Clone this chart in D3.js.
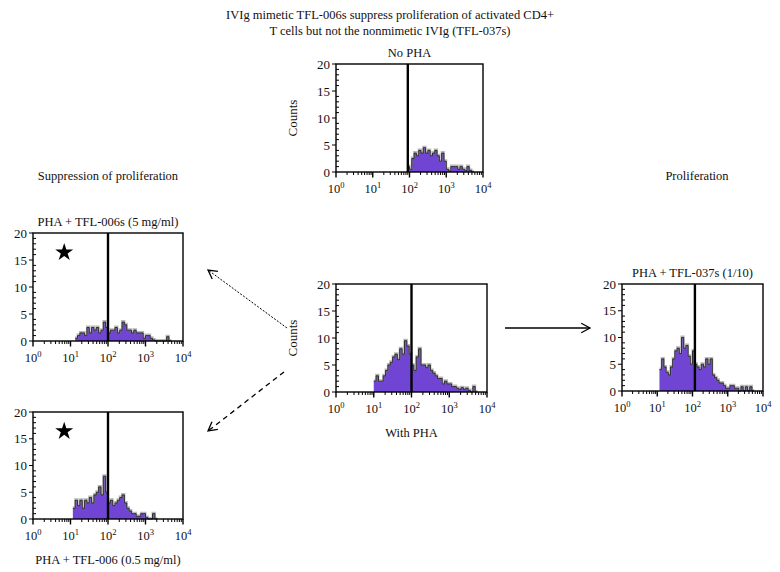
<!DOCTYPE html>
<html><head><meta charset="utf-8">
<script src="https://cdn.jsdelivr.net/npm/d3@7"></script>
<style>body{margin:0;background:#fff}svg{display:block}text{font-family:"Liberation Serif","DejaVu Serif",serif;fill:#111}</style>
</head><body><svg id="c" width="780" height="572"></svg>
<script>
// ---- data (bins of 1/16 decade; start = log10 of first bin edge) ----
const binWidth = 1/16;
const xTickExps = [0, 1, 2, 3, 4];
const yTicks = [0, 5, 10, 15, 20];

const noPhaStart = 1.9375;
const noPhaCounts = [1,0.5,2.5,3.5,3,4,3.5,4.5,3.5,4,3,3.5,4,3,2,3.5,2,0.5,0.2,1,1,1,0.5,1,0.5,0.3,1,0.3,0];
const noPhaGate = 90;

const withPhaStart = 1.0;
const withPhaCounts = [2,3,2,2,3,4,5,5.5,6.5,7,6,8,7,9.5,8.5,7,5,4,6.5,8,5,5,4.5,5,4,3.5,3,2.5,2.5,1.5,2,1.5,1.5,1,1,0.7,0.5,0.8,0.5,0.7,0.3,0,1,0];
const withPhaGate = 100;

const tfl5Start = 1.125;
const tfl5Counts = [0.5,1,1.5,1.5,1,2.5,1.5,2.5,2,2.5,1.5,2,3.5,2.5,1.5,2,2,2.5,1.5,2,3.5,3,2,2,1.5,2,1.5,1.5,1.5,0.5,1,1,0.5,0.2,0,0,0,0,0,0.8,0];
const tfl5Gate = 100;

const tfl05Start = 1.0625;
const tfl05Counts = [2,3.5,2.5,3.5,2,3.5,3,4,3,4.5,5,6,4.5,8,5,3,3.5,2.5,3,3.5,4,4.5,3,2,1.5,1,1,0.5,0.5,1,1,0.3,0,0,1,0];
const tfl05Gate = 100;

const tfl037Start = 1.0625;
const tfl037Counts = [4,6,4.5,3.5,3,4.5,6,7.5,8,7,10,8,8.5,6.5,5,7.5,5,4.5,4,5,4.5,6,5,6,3,2.5,2,1.5,1.5,1,0.5,0.5,1,1,0.5,0.5,0,0.8,0,0.8,0,0.8,0];
const tfl037Gate = 117;

const svg = d3.select("#c");
const purple = "#7145d4";

function panel(o){
  const g = svg.append("g");
  const x = d3.scaleLog().domain([1, 1e4]).range([o.x0, o.x1]);
  const y = d3.scaleLinear().domain([0, 20]).range([o.y1, o.y0]);
  // histogram
  const pts = o.counts.map((c,i)=>({e: o.start + i*binWidth, c}));
  pts.push({e: o.start + o.counts.length*binWidth, c: o.counts[o.counts.length-1]});
  const area = d3.area().curve(d3.curveStepAfter).x(d=>x(Math.pow(10,d.e))).y0(y(0)).y1(d=>y(d.c));
  const line = d3.line().curve(d3.curveStepAfter).x(d=>x(Math.pow(10,d.e))).y(d=>y(d.c));
  g.append("path").attr("d", area(pts)).attr("fill", purple);
  g.append("path").attr("d", line(pts)).attr("fill","none").attr("stroke","#888").attr("stroke-width",2).attr("opacity",0.6).attr("transform","translate(0,-1)");
  g.append("path").attr("d", line(pts)).attr("fill","none").attr("stroke","#222").attr("stroke-width",0.9);
  // gate
  g.append("line").attr("x1", x(o.gate)).attr("x2", x(o.gate)).attr("y1", y(20)).attr("y2", y(0)).attr("stroke","#000").attr("stroke-width",2.4);
  // box
  g.append("rect").attr("x", o.x0).attr("y", o.y0).attr("width", o.x1-o.x0).attr("height", o.y1-o.y0).attr("fill","none").attr("stroke","#000").attr("stroke-width",1.4);
  // y ticks
  for (let v=0; v<=20; v++){
    const major = v%5===0;
    g.append("line").attr("x1", major? o.x0-4 : o.x0).attr("x2", o.x0+ (major?0:3)).attr("y1", y(v)).attr("y2", y(v)).attr("stroke","#000").attr("stroke-width",1);
  }
  g.selectAll(null).data(yTicks).join("text").attr("x", o.x0-6).attr("y", d=>y(d)+4.5).attr("text-anchor","end").attr("font-size",13).text(d=>d);
  // x ticks
  for (let e=0; e<4; e++){
    for (let m=2; m<=9; m++){
      const xv = x(m*Math.pow(10,e));
      g.append("line").attr("x1",xv).attr("x2",xv).attr("y1",o.y1).attr("y2",o.y1+3).attr("stroke","#000").attr("stroke-width",1);
    }
  }
  xTickExps.forEach(e=>{
    const xv = x(Math.pow(10,e));
    g.append("line").attr("x1",xv).attr("x2",xv).attr("y1",o.y1).attr("y2",o.y1+5.5).attr("stroke","#000").attr("stroke-width",1.4);
    const t = g.append("text").attr("x", xv).attr("y", o.y1+21).attr("text-anchor","middle").attr("font-size",12.5);
    t.append("tspan").text("10");
    t.append("tspan").attr("dy",-5).attr("font-size",8.5).text(e);
  });
  if (o.title) g.append("text").attr("x",(o.x0+o.x1)/2).attr("y",o.y0-7).attr("text-anchor","middle").attr("font-size",12.5).text(o.title);
  if (o.bottom) g.append("text").attr("x",(o.x0+o.x1)/2).attr("y",o.y1+45).attr("text-anchor","middle").attr("font-size",12.5).text(o.bottom);
  if (o.ylab) g.append("text").attr("transform",`translate(${o.x0-39},${(o.y0+o.y1)/2}) rotate(-90)`).attr("text-anchor","middle").attr("font-size",13).text("Counts");
  if (o.star) {
    g.append("path").attr("d", d3.symbol().type(d3.symbolStar).size(100)()).attr("transform",`translate(${x(6.8)},${y(16.4)})`).attr("fill","#000");
  }
}

panel({x0:336,x1:483,y0:64,y1:172,start:noPhaStart,counts:noPhaCounts,gate:noPhaGate,title:"No PHA",ylab:true});
panel({x0:336,x1:487,y0:284,y1:392,start:withPhaStart,counts:withPhaCounts,gate:withPhaGate,bottom:"With PHA",ylab:true});
panel({x0:33,x1:183,y0:233,y1:341,start:tfl5Start,counts:tfl5Counts,gate:tfl5Gate,title:"PHA + TFL-006s (5 mg/ml)",star:true});
panel({x0:33,x1:183,y0:412,y1:519,start:tfl05Start,counts:tfl05Counts,gate:tfl05Gate,bottom:"PHA + TFL-006 (0.5 mg/ml)",star:true});
panel({x0:622,x1:763,y0:284,y1:391,start:tfl037Start,counts:tfl037Counts,gate:tfl037Gate,title:"PHA + TFL-037s (1/10)"});

// titles
svg.append("text").attr("x",390).attr("y",19).attr("text-anchor","middle").attr("font-size",12.5).text("IVIg mimetic TFL-006s suppress proliferation of activated CD4+");
svg.append("text").attr("x",390).attr("y",35).attr("text-anchor","middle").attr("font-size",12.5).text("T cells but not the nonmimetic IVIg (TFL-037s)");
svg.append("text").attr("x",108).attr("y",180).attr("text-anchor","middle").attr("font-size",12.5).text("Suppression of proliferation");
svg.append("text").attr("x",697).attr("y",180).attr("text-anchor","middle").attr("font-size",12.5).text("Proliferation");

// arrows
function arrow(x1,y1,x2,y2,dash){
  svg.append("line").attr("x1",x1).attr("y1",y1).attr("x2",x2).attr("y2",y2).attr("stroke","#000").attr("stroke-width",dash==="2,1.5"?1:1.3).attr("stroke-dasharray",dash||null);
  const a = Math.atan2(y2-y1,x2-x1), L=10, w=0.5;
  const p1=[x2-L*Math.cos(a-w), y2-L*Math.sin(a-w)], p2=[x2-L*Math.cos(a+w), y2-L*Math.sin(a+w)];
  svg.append("path").attr("d",`M${p1}L${x2},${y2}L${p2}`).attr("fill","none").attr("stroke","#000").attr("stroke-width",1.3);
}
arrow(287,328,208,270,"2,1.5");
arrow(284,372,208,431,"5,4");
arrow(505,328,590,328,null);
</script></body></html>
